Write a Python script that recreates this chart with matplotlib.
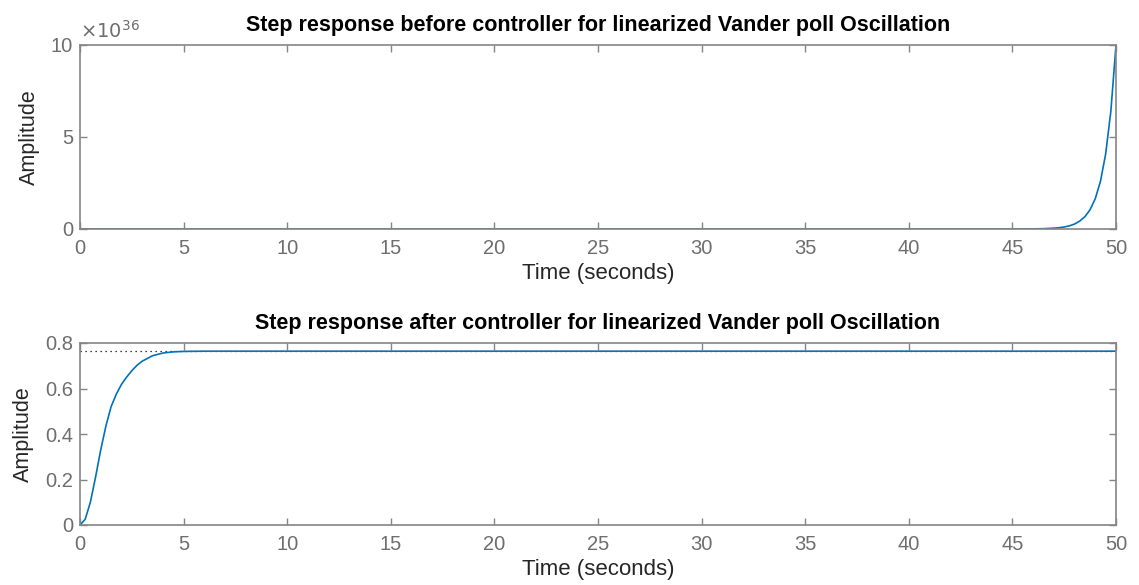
import matplotlib.pyplot as plt

plt.rcParams['font.family'] = ['Liberation Sans', 'DejaVu Sans']

# open-loop step response (amplitude in units of 1e36)
t_before = [0, 10, 20, 30, 40, 45, 46, 46.5, 47, 47.25, 47.5, 47.75, 48, 48.25,
            48.5, 48.75, 49, 49.25, 49.5, 49.75, 50]
y_before = [0, 0, 0, 0, 0, 0.001, 0.007, 0.018, 0.045, 0.07, 0.11, 0.17, 0.27, 0.43,
            0.67, 1.05, 1.65, 2.59, 4.07, 6.38, 10.0]

# closed-loop step response
t_after = [0, 0.25, 0.5, 0.75, 1.0, 1.25, 1.5, 1.75, 2.0, 2.25, 2.5, 2.75, 3.0, 3.5,
           4.0, 4.5, 5, 6, 50]
y_after = [0, 0.025, 0.1, 0.21, 0.33, 0.435, 0.52, 0.575, 0.618, 0.65, 0.678, 0.702,
           0.72, 0.744, 0.756, 0.761, 0.763, 0.764, 0.764]
y_final = 0.764

line_col = '#0072BD'
axis_col = '#858585'
tick_col = '#6e6e6e'
label_col = '#262626'

fig = plt.figure(figsize=(11.39, 5.85), dpi=100)
ax1 = fig.add_axes([80/1139, 1 - 229/585, 1036/1139, 184/585])
ax2 = fig.add_axes([80/1139, 1 - 525/585, 1036/1139, 182/585])


def style(ax):
    for s in ax.spines.values():
        s.set_color(axis_col)
        s.set_linewidth(1.2)
    ax.tick_params(direction='in', top=True, right=True, colors=axis_col,
                   labelcolor=tick_col, labelsize=14.5, length=5, width=1)
    ax.tick_params(axis='x', pad=7)
    ax.tick_params(axis='y', pad=5)
    ax.set_xlim(0, 50)
    ax.set_xticks(range(0, 51, 5))
    ax.set_xlabel('Time (seconds)', fontsize=16, color=label_col, labelpad=4)
    ax.set_ylabel('Amplitude', fontsize=15.5, color=label_col, labelpad=8)


ax1.plot(t_before, y_before, color=line_col, lw=1.2)
ax1.set_ylim(0, 10)
ax1.set_yticks([0, 5, 10])
style(ax1)
ax1.set_title('Step response before controller for linearized Vander poll Oscillation',
              fontsize=15.5, fontweight='bold', pad=10)
ax1.text(0, 1.015, r'$\times10^{36}$', transform=ax1.transAxes, fontsize=14,
         color=tick_col, ha='left', va='bottom')

ax2.plot([0, 50], [y_final, y_final], color='black', lw=0.9, ls=(0, (1, 3)), zorder=1)
ax2.plot(t_after, y_after, color=line_col, lw=1.2, zorder=2)
ax2.set_ylim(0, 0.8)
ax2.set_yticks([0, 0.2, 0.4, 0.6, 0.8])
ax2.set_yticklabels(['0', '0.2', '0.4', '0.6', '0.8'])
style(ax2)
ax2.set_title('Step response after controller for linearized Vander poll Oscillation',
              fontsize=15.5, fontweight='bold', pad=10)

fig.savefig('out.png', dpi=100, facecolor='white')
